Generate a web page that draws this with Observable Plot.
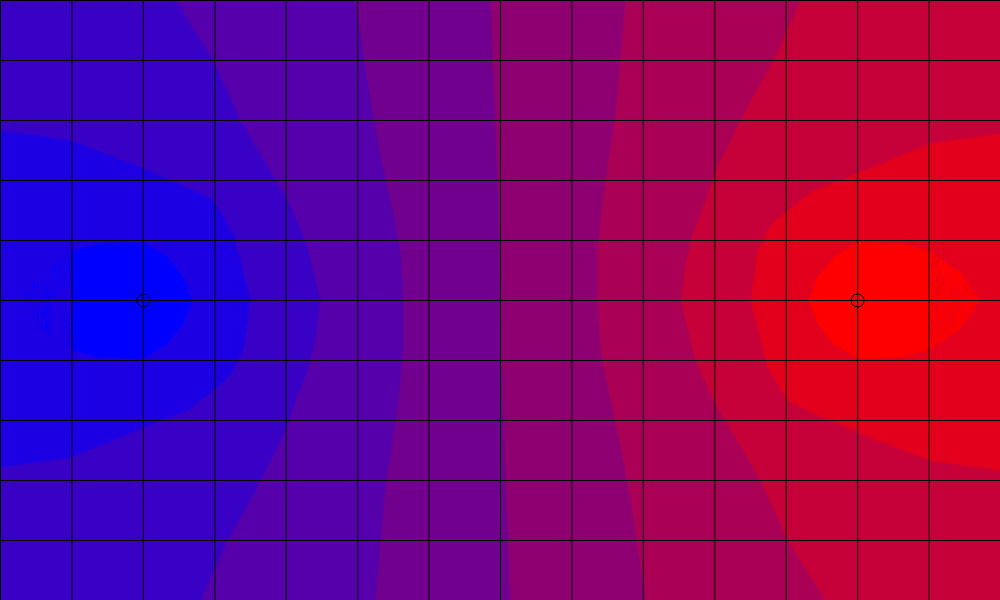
<!DOCTYPE html>
<html><head><meta charset="utf-8">
<script src="https://cdn.jsdelivr.net/npm/d3@7"></script>
<script src="https://cdn.jsdelivr.net/npm/@observablehq/plot@0.6"></script>
<style>body{margin:0;background:#fff}</style>
</head><body><div id="chart"></div>
<script>
// Two marked source points
const sourceX = [2, 12];
const sourceY = [5, 5];
const sourceV = [0, 1];

// Grid ticks
const xTicks = d3.range(0, 15);
const yTicks = d3.range(0, 11);

// Band thresholds (10 colour bands)
const thresholds = [0.1, 0.2, 0.3, 0.4, 0.5, 0.6, 0.7, 0.8, 0.9];

// Boundary samples: [x, y] in data units (y down)
const level10 = [[0.28,5.0],[0.56,4.53],[1.01,4.17],[1.40,4.05],[2.00,4.03],[2.34,4.28],[2.56,4.62],[2.69,5.0],[2.56,5.38],[2.34,5.72],[2.00,5.97],[1.40,5.95],[1.01,5.83],[0.56,5.47]];
const level20 = [[0,2.17],[0.98,2.33],[1.96,2.78],[2.62,3.12],[2.98,3.33],[3.26,3.88],[3.50,5.0],[3.40,5.83],[3.22,6.25],[2.98,6.5],[2.62,6.83],[2.00,7.12],[0.98,7.62],[0,7.78]];
const level30 = [[2.45,0],[2.98,1.0],[3.36,2.0],[4.02,3.33],[4.27,4.0],[4.41,4.67],[4.48,5.0],[4.42,5.55],[4.31,6.12],[4.13,6.67],[3.99,7.17],[3.57,8.17],[3.18,9.0],[2.80,10]];
const level40 = [[4.97,0],[5.05,0.67],[5.18,1.67],[5.32,2.58],[5.46,3.33],[5.60,4.17],[5.64,5.0],[5.64,5.83],[5.57,6.67],[5.49,7.33],[5.40,8.0],[5.32,9.0],[5.25,10]];
const level50 = [[6.86,0],[6.89,1],[6.93,2],[6.97,3.33],[7.0,5],[7.03,6.67],[7.07,8],[7.11,9],[7.14,10]];
const level60 = [[8.75,0],[8.68,1.0],[8.60,2.0],[8.51,2.67],[8.43,3.33],[8.36,4.17],[8.36,5.0],[8.40,5.83],[8.54,6.67],[8.68,7.42],[8.82,8.33],[8.95,9.33],[9.03,10]];
const level70 = [[11.2,0],[10.82,1.0],[10.43,1.83],[10.01,2.83],[9.87,3.33],[9.69,3.88],[9.58,4.45],[9.52,5.0],[9.59,5.33],[9.73,6.0],[9.98,6.67],[10.64,8.0],[11.02,9.0],[11.55,10]];
const level80 = [[14,2.22],[13.02,2.38],[12.0,2.88],[11.38,3.17],[11.02,3.5],[10.78,3.75],[10.6,4.17],[10.5,5.0],[10.74,6.12],[11.02,6.67],[11.38,6.88],[12.04,7.22],[13.02,7.67],[14,7.83]];
const level90 = [[13.72,5.0],[13.44,5.47],[12.99,5.83],[12.6,5.95],[12.0,5.97],[11.66,5.72],[11.44,5.38],[11.31,5.0],[11.44,4.62],[11.66,4.28],[12.0,4.03],[12.6,4.05],[12.99,4.17],[13.44,4.53]];

// Edge / corner samples: [x, y, value]
const edgeSamples = [[0,0,0.25],[0,10,0.25],[14,0,0.75],[14,10,0.75],[0,3.5,0.15],[0,5,0.12],[0,6.5,0.15],[14,3.5,0.85],[14,5,0.88],[14,6.5,0.85],[1.2,0,0.27],[1.3,10,0.27],[12.8,0,0.73],[12.7,10,0.73]];

const levels = [level10, level20, level30, level40, level50, level60, level70, level80, level90];
const samples = [
  ...sourceX.map((x, i) => ({x, y: sourceY[i], v: sourceV[i]})),
  ...levels.flatMap((pts, k) => pts.map(([x, y]) => ({x, y, v: thresholds[k]}))),
  ...edgeSamples.map(([x, y, v]) => ({x, y, v}))
];
const points = sourceX.map((x, i) => ({x, y: sourceY[i]}));
const colors = d3.range(10).map(k => d3.interpolateRgb("blue", "red")(k / 9));

const chart = Plot.plot({
  width: 1000, height: 600, margin: 0,
  x: {domain: [0, 14], axis: null},
  y: {domain: [0, 10], reverse: true, axis: null},
  color: {type: "threshold", domain: thresholds, range: colors},
  marks: [
    Plot.raster(samples, {x: "x", y: "y", fill: "v", interpolate: "barycentric", x1: 0, x2: 14, y1: 0, y2: 10}),
    Plot.ruleX(xTicks, {stroke: "black", strokeWidth: 1}),
    Plot.ruleY(yTicks, {stroke: "black", strokeWidth: 1}),
    Plot.dot(points, {x: "x", y: "y", r: 6.5, stroke: "black", strokeWidth: 1, fill: "none"})
  ]
});
document.getElementById("chart").append(chart);
</script></body></html>
